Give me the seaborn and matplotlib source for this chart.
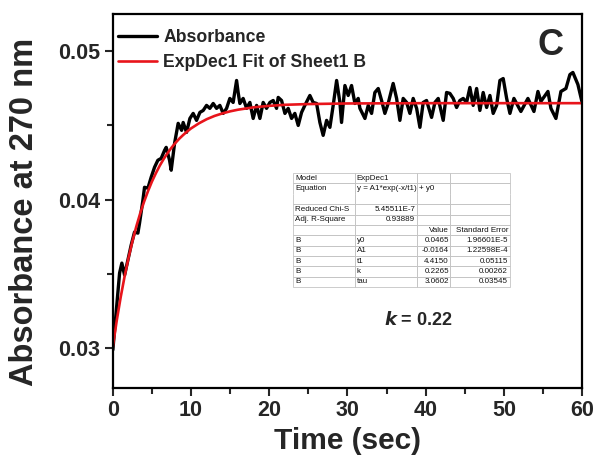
import matplotlib
matplotlib.use("Agg")
import matplotlib.pyplot as plt
import seaborn as sns
import pandas as pd
from matplotlib.ticker import MultipleLocator, FormatStrFormatter

time_s = [0.00, 0.42, 0.86, 1.15, 1.50, 1.92, 2.34, 2.77, 3.20, 3.41, 3.84, 4.05,
          4.48, 4.90, 5.33, 5.75, 6.18, 6.61, 6.82, 7.25, 7.46, 7.89, 8.35, 8.79,
          8.99, 9.42, 9.85, 10.27, 10.70, 11.13, 11.55, 11.98, 12.40, 12.83, 13.26,
          13.68, 14.11, 14.54, 14.96, 15.38, 15.82, 16.02, 16.24, 16.66, 17.10,
          17.52, 17.94, 18.38, 18.80, 19.22, 19.65, 20.08, 20.50, 20.93, 21.14,
          21.57, 22.00, 22.42, 22.85, 23.27, 23.70, 24.13, 24.55, 25.19, 25.61,
          26.05, 26.47, 26.89, 27.33, 27.75, 28.17, 28.61, 29.03, 29.24, 29.67,
          30.09, 30.52, 30.95, 31.37, 31.59, 32.23, 32.65, 33.08, 33.50, 33.93,
          34.36, 34.78, 35.20, 35.84, 36.28, 36.70, 37.12, 37.56, 37.98, 38.40,
          38.84, 39.26, 39.68, 40.11, 40.75, 41.18, 41.60, 42.24, 42.67, 43.09,
          43.52, 43.95, 44.37, 44.80, 45.23, 45.65, 46.07, 46.51, 46.93, 47.35,
          47.79, 48.21, 48.63, 49.07, 49.49, 49.91, 50.35, 50.77, 51.28, 52.17,
          53.07, 53.84, 54.35, 54.73, 55.63, 56.01, 56.65, 57.29, 57.93, 58.44,
          58.82, 59.46, 59.97]
absorbance = [0.02987, 0.03236, 0.03505, 0.03572, 0.03491, 0.03592, 0.03693, 0.03781,
              0.03774, 0.03841, 0.03996, 0.04083, 0.04077, 0.04151, 0.04218, 0.04265,
              0.04278, 0.04332, 0.04352, 0.04265, 0.04198, 0.04379, 0.04514, 0.04467,
              0.04520, 0.04453, 0.04547, 0.04581, 0.04534, 0.04588, 0.04601, 0.04635,
              0.04615, 0.04648, 0.04615, 0.04635, 0.04581, 0.04615, 0.04682, 0.04655,
              0.04803, 0.04722, 0.04648, 0.04682, 0.04615, 0.04655, 0.04547, 0.04635,
              0.04547, 0.04655, 0.04615, 0.04655, 0.04668, 0.04615, 0.04689, 0.04668,
              0.04581, 0.04615, 0.04547, 0.04581, 0.04500, 0.04588, 0.04635, 0.04702,
              0.04655, 0.04648, 0.04520, 0.04433, 0.04534, 0.04487, 0.04635, 0.04803,
              0.04655, 0.04520, 0.04769, 0.04702, 0.04769, 0.04648, 0.04682, 0.04615,
              0.04547, 0.04635, 0.04581, 0.04722, 0.04749, 0.04668, 0.04581, 0.04648,
              0.04783, 0.04682, 0.04534, 0.04682, 0.04655, 0.04581, 0.04682, 0.04615,
              0.04487, 0.04655, 0.04668, 0.04554, 0.04655, 0.04682, 0.04534, 0.04722,
              0.04716, 0.04682, 0.04621, 0.04668, 0.04682, 0.04655, 0.04756, 0.04635,
              0.04749, 0.04601, 0.04722, 0.04621, 0.04702, 0.04581, 0.04635, 0.04803,
              0.04816, 0.04682, 0.04581, 0.04682, 0.04594, 0.04682, 0.04594, 0.04729,
              0.04662, 0.04729, 0.04615, 0.04547, 0.04729, 0.04749, 0.04843, 0.04857,
              0.04776, 0.04662]

# ExpDec1 fit curve
fit_time = [0, 0.5, 1, 1.5, 2, 2.5, 3, 3.5, 4, 4.5, 5, 5.5, 6, 6.5, 7, 7.5, 8, 8.5,
            9, 9.5, 10, 11, 12, 13, 14, 15, 16, 18, 20, 22, 25, 30, 35, 40, 50, 60]
fit_abs = [0.03010, 0.03186, 0.03342, 0.03482, 0.03607, 0.03719, 0.03819, 0.03908,
           0.03987, 0.04058, 0.04122, 0.04178, 0.04229, 0.04274, 0.04314, 0.04350,
           0.04382, 0.04411, 0.04436, 0.04459, 0.04480, 0.04514, 0.04542, 0.04564,
           0.04581, 0.04595, 0.04606, 0.04622, 0.04632, 0.04639, 0.04644, 0.04648,
           0.04649, 0.04650, 0.04650, 0.04650]

# fit report table
table_rows = [
    ["Model", "ExpDec1", "", ""],
    ["Equation", "y = A1*exp(-x/t1) + y0", "", ""],
    ["", "", "", ""],
    ["Reduced Chi-S", "5.45511E-7", "", ""],
    ["Adj. R-Square", "0.93889", "", ""],
    ["", "", "Value", "Standard Error"],
    ["B", "y0", "0.0465", "1.96601E-5"],
    ["B", "A1", "-0.0164", "1.22598E-4"],
    ["B", "t1", "4.4150", "0.05115"],
    ["B", "k", "0.2265", "0.00262"],
    ["B", "tau", "3.0602", "0.03545"],
]

sns.set_style("ticks")
plt.rcParams["font.family"] = ["Liberation Sans", "DejaVu Sans"]
plt.rcParams["font.weight"] = "bold"
plt.rcParams["axes.labelweight"] = "bold"

fig = plt.figure(figsize=(5.94, 4.57), dpi=100)
ax = fig.add_axes([0.190, 0.151, 0.790, 0.818])

data = pd.DataFrame({"t": time_s, "a": absorbance})
fit = pd.DataFrame({"t": fit_time, "a": fit_abs})
sns.lineplot(data=data, x="t", y="a", color="black", linewidth=2.4, sort=False,
             estimator=None, label="Absorbance", ax=ax)
sns.lineplot(data=fit, x="t", y="a", color="#e8141b", linewidth=1.9, sort=False,
             estimator=None, label="ExpDec1 Fit of Sheet1 B", ax=ax)

ax.set_xlim(0, 60)
ax.set_ylim(0.0273, 0.0525)
ax.xaxis.set_major_locator(MultipleLocator(10))
ax.xaxis.set_minor_locator(MultipleLocator(5))
ax.yaxis.set_major_locator(MultipleLocator(0.01))
ax.yaxis.set_minor_locator(MultipleLocator(0.005))
ax.yaxis.set_major_formatter(FormatStrFormatter("%.2f"))
ax.tick_params(which="major", direction="out", length=6, width=1.5, labelsize=15.5, pad=3)
ax.tick_params(which="minor", direction="out", length=4, width=1.5)
for side in ["top", "right", "left", "bottom"]:
    ax.spines[side].set_visible(True)
    ax.spines[side].set_linewidth(1.6)
    ax.spines[side].set_color("black")

ax.set_xlabel("Time (sec)", fontsize=21.5, fontweight="bold", labelpad=4)
ax.set_ylabel("Absorbance at 270 nm", fontsize=23.5, fontweight="bold")
ax.yaxis.set_label_coords(-0.155, 0.47)

ax.legend(loc="upper left", bbox_to_anchor=(0.0, 0.975), frameon=False,
          handlelength=2.2, handletextpad=0.35, borderaxespad=0.0,
          labelspacing=0.45, borderpad=0.3, prop={"weight": "bold", "size": 12.7})

ax.text(0.932, 0.917, "C", transform=ax.transAxes, fontsize=26, fontweight="bold",
        ha="center", va="center")
ax.text(0.650, 0.182, "$\\boldsymbol{k}$ = 0.22", transform=ax.transAxes,
        fontsize=13, fontweight="bold", ha="center", va="center")

tbl = ax.table(cellText=table_rows, colWidths=[62, 62, 33, 60],
               bbox=[0.384, 0.270, 0.462, 0.305], cellLoc="left")
tbl.auto_set_font_size(False)
tbl.set_fontsize(5.8)
for (r, c), cell in tbl.get_celld().items():
    cell.set_edgecolor("#c4c4c4")
    cell.set_facecolor("none")
    cell.set_linewidth(0.6)
    cell.PAD = 0.03
    txt = cell.get_text()
    txt.set_color("#111111")
    txt.set_fontweight("normal")
    txt.set_clip_on(False)
    if (r in (3, 4) and c == 1) or (r >= 5 and c >= 2):
        txt.set_horizontalalignment("right")
        cell._loc = "right"
    if r == 1:
        cell.visible_edges = "LRT"
    if r == 2:
        cell.visible_edges = "LRB"

fig.savefig("out.png", dpi=100)
